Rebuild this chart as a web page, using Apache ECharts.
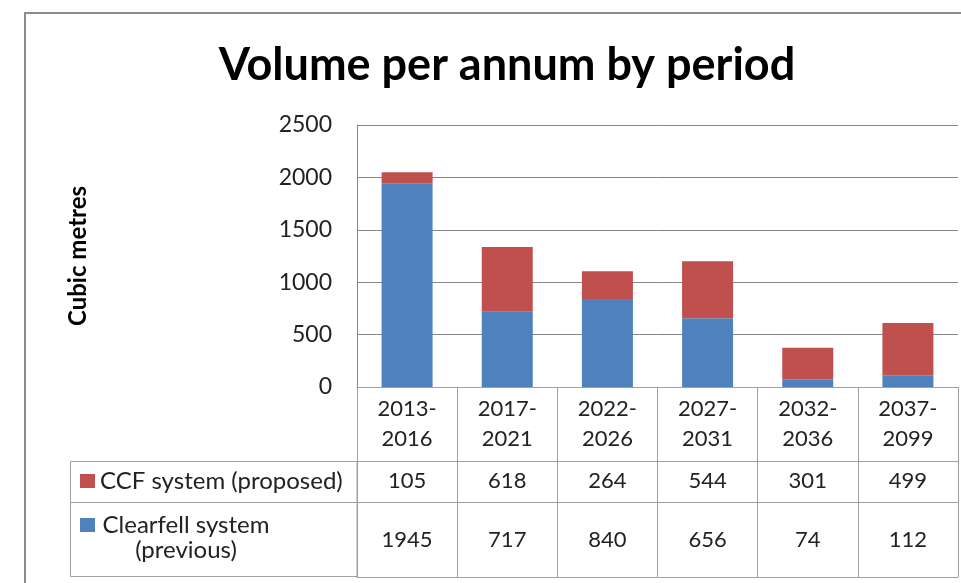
<!DOCTYPE html>
<html>
<head>
    <meta charset="utf-8">
    <title>Volume per annum by period</title>
    <script src="https://cdn.jsdelivr.net/npm/echarts@6/dist/echarts.min.js"></script>
    <style>
        body { margin: 0; background: #fff; }
        #main { width: 961px; height: 583px; }
    </style>
</head>
<body>
<div id="main"></div>
<script type="text/javascript">
    // data
    var periods = ['2013-2016', '2017-2021', '2022-2026', '2027-2031', '2032-2036', '2037-2099'];
    var ccfValues = [105, 618, 264, 544, 301, 499];
    var clearfellValues = [1945, 717, 840, 656, 74, 112];
    var yTicks = [0, 500, 1000, 1500, 2000, 2500];

    var ccfName = 'CCF system (proposed)';
    var clearName = 'Clearfell system (previous)';

    var font = 'Lato, "Open Sans", sans-serif';
    var tableLine = '#a0a0a0';
    var gridLine = '#878787';
    var textColor = '#222';

    var chart = echarts.init(document.getElementById('main'));

    var option = {
        backgroundColor: '#fff',
        animation: false,
        title: {
            text: 'Volume per annum by period',
            left: 502,
            textAlign: 'center',
            top: 38,
            textStyle: { fontFamily: font, fontSize: 45, fontWeight: 'bold', color: '#000' }
        },
        legend: [{
            data: [ccfName],
            left: 80, top: 469, padding: 0,
            itemWidth: 15, itemHeight: 14,
            icon: 'rect',
            selectedMode: false,
            textStyle: { fontFamily: font, fontSize: 24, color: textColor }
        }, {
            data: [clearName],
            left: 80, top: 513, padding: 0,
            itemWidth: 15, itemHeight: 14,
            icon: 'rect',
            selectedMode: false,
            formatter: function () {
                return '{a|Clearfell system}\n{a|(previous)}';
            },
            textStyle: {
                fontFamily: font, fontSize: 24, color: textColor,
                padding: [25, 0, 0, 0],
                rich: {
                    a: { fontFamily: font, fontSize: 24, color: textColor, width: 172, align: 'center', lineHeight: 25 }
                }
            }
        }],
        grid: {
            left: 357, right: 3, top: 125, bottom: 196,
            outerBoundsMode: 'none'
        },
        xAxis: [{
            type: 'category',
            position: 'bottom',
            data: periods,
            axisLine: { lineStyle: { color: tableLine, width: 1 } },
            axisTick: { show: true, interval: 0, length: 74, lineStyle: { color: tableLine } },
            axisLabel: {
                interval: 0, margin: 7,
                fontFamily: font, fontSize: 22, color: textColor, lineHeight: 30,
                formatter: function (v) { return v.replace('-', '-\n'); }
            }
        }, {
            type: 'category',
            position: 'bottom',
            offset: 74,
            data: ccfValues.map(String),
            axisLine: { lineStyle: { color: tableLine, width: 1 } },
            axisTick: { show: true, interval: 0, length: 41, lineStyle: { color: tableLine } },
            axisLabel: { interval: 0, margin: 9, fontFamily: font, fontSize: 22, color: textColor, lineHeight: 22 }
        }, {
            type: 'category',
            position: 'bottom',
            offset: 115,
            data: clearfellValues.map(String),
            axisLine: { lineStyle: { color: tableLine, width: 1 } },
            axisTick: { show: true, interval: 0, length: 75, lineStyle: { color: tableLine } },
            axisLabel: { interval: 0, margin: 27, fontFamily: font, fontSize: 22, color: textColor, lineHeight: 22 }
        }, {
            type: 'category',
            position: 'bottom',
            offset: 190,
            data: periods,
            axisLine: { lineStyle: { color: tableLine, width: 1 } },
            axisTick: { show: false },
            axisLabel: { show: false }
        }],
        yAxis: {
            type: 'value',
            min: yTicks[0],
            max: yTicks[yTicks.length - 1],
            interval: yTicks[1] - yTicks[0],
            name: 'Cubic metres',
            nameLocation: 'middle',
            nameGap: 267,
            nameRotate: 90,
            nameTextStyle: { fontFamily: font, fontSize: 24, fontWeight: 'bold', color: '#000' },
            axisLine: { show: true, lineStyle: { color: gridLine } },
            axisTick: { show: false },
            axisLabel: {
                margin: 25, fontFamily: font, fontSize: 23, color: textColor,
                formatter: function (v) { return String(v); }
            },
            splitLine: { show: true, lineStyle: { color: gridLine, width: 1 } }
        },
        series: [{
            name: clearName,
            type: 'bar',
            stack: 'vol',
            barWidth: 51,
            itemStyle: { color: '#4f81bd' },
            data: clearfellValues
        }, {
            name: ccfName,
            type: 'bar',
            stack: 'vol',
            barWidth: 51,
            itemStyle: { color: '#c0504d' },
            data: ccfValues
        }],
        graphic: [{
            // outer chart frame
            type: 'polyline',
            shape: { points: [[25, 583], [25, 13], [961, 13]] },
            style: { stroke: '#8c8c8c', lineWidth: 2, fill: null },
            silent: true
        }, {
            // legend column of the data table
            type: 'rect',
            shape: { x: 70.5, y: 461.5, width: 286.5, height: 115 },
            style: { stroke: tableLine, lineWidth: 1, fill: null },
            silent: true
        }, {
            type: 'line',
            shape: { x1: 70.5, y1: 502.5, x2: 357, y2: 502.5 },
            style: { stroke: tableLine, lineWidth: 1 },
            silent: true
        }]
    };

    chart.setOption(option);
</script>
</body>
</html>
